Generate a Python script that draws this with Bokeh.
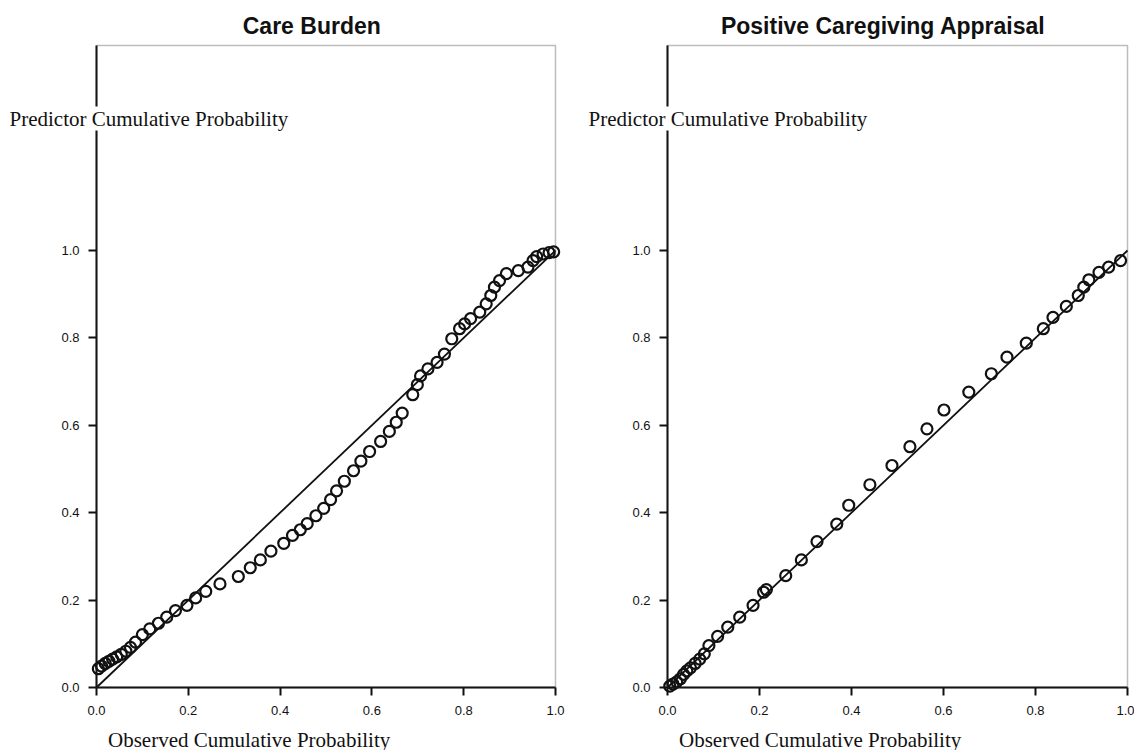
from bokeh.plotting import figure
from bokeh.models import (Label, Range1d, FixedTicker, NumeralTickFormatter,
                          LinearAxis, BoxAnnotation)
from bokeh.layouts import row
from bokeh.embed import file_html
from bokeh.resources import INLINE

# ---------------- data ----------------
titles = ["Care Burden", "Positive Caregiving Appraisal"]
x_label = "Observed Cumulative Probability"
y_label = "Predictor Cumulative Probability"
tick_values = [0.0, 0.2, 0.4, 0.6, 0.8, 1.0]

ref_x = [0.0, 1.0]
ref_y = [0.0, 1.0]

cb_x = [0.004, 0.011, 0.019, 0.027, 0.035, 0.044, 0.054, 0.064, 0.074, 0.085,
        0.100, 0.116, 0.135, 0.153, 0.172, 0.197, 0.216, 0.238, 0.269, 0.309,
        0.335, 0.357, 0.380, 0.408, 0.427, 0.444, 0.459, 0.478, 0.495, 0.510,
        0.523, 0.540, 0.560, 0.576, 0.595, 0.619, 0.638, 0.653, 0.666, 0.689,
        0.699, 0.706, 0.722, 0.742, 0.758, 0.774, 0.791, 0.802, 0.815, 0.835,
        0.849, 0.859, 0.867, 0.878, 0.893, 0.919, 0.940, 0.951, 0.959, 0.973,
        0.986, 0.996]
cb_y = [0.043, 0.049, 0.055, 0.060, 0.065, 0.070, 0.076, 0.083, 0.092, 0.104,
        0.121, 0.134, 0.147, 0.161, 0.176, 0.188, 0.205, 0.220, 0.237, 0.254,
        0.274, 0.292, 0.312, 0.330, 0.348, 0.361, 0.375, 0.393, 0.410, 0.430,
        0.450, 0.472, 0.496, 0.518, 0.540, 0.563, 0.586, 0.607, 0.628, 0.670,
        0.693, 0.713, 0.729, 0.744, 0.763, 0.798, 0.821, 0.832, 0.844, 0.859,
        0.878, 0.897, 0.916, 0.931, 0.947, 0.954, 0.962, 0.977, 0.986, 0.992,
        0.995, 0.997]

pca_x = [0.005, 0.012, 0.020, 0.028, 0.035, 0.042, 0.050, 0.060, 0.070, 0.080,
         0.090, 0.109, 0.131, 0.157, 0.186, 0.209, 0.215, 0.257, 0.291, 0.325,
         0.368, 0.394, 0.440, 0.488, 0.527, 0.564, 0.601, 0.655, 0.704, 0.738,
         0.780, 0.817, 0.838, 0.867, 0.893, 0.905, 0.916, 0.938, 0.959, 0.985]
pca_y = [0.003, 0.008, 0.013, 0.020, 0.030, 0.038, 0.045, 0.055, 0.065, 0.077,
         0.096, 0.117, 0.138, 0.161, 0.188, 0.218, 0.224, 0.256, 0.292, 0.334,
         0.374, 0.417, 0.464, 0.508, 0.551, 0.592, 0.635, 0.676, 0.718, 0.756,
         0.788, 0.821, 0.847, 0.872, 0.897, 0.916, 0.933, 0.950, 0.962, 0.977]

series = [(cb_x, cb_y), (pca_x, pca_y)]

# ---------------- layout (pixel geometry, page coordinates) ----------------
H = 750
Y0_PX, Y_SCALE = 687, 437.0          # y = 0 row and px per unit
BOX_TOP_PX = 45
panels_geo = [
    dict(left=0, width=580, x0=96, scale=459.0, ylab=9),
    dict(left=580, width=554, x0=667, scale=460.0, ylab=588),
]
Y_TOP = (Y0_PX - BOX_TOP_PX) / Y_SCALE


def ypx(px):
    return (Y0_PX - px) / Y_SCALE


def make_panel(title, xs, ys, g):
    def xpx(px):  # page pixel -> data x
        return (px - g["x0"]) / g["scale"]

    p = figure(output_backend="svg", toolbar_location=None,
               width=g["width"], height=H, min_border=0,
               x_axis_type=None, y_axis_type=None,
               x_range=Range1d(xpx(g["left"]), xpx(g["left"] + g["width"])),
               y_range=Range1d(ypx(H), ypx(0)))
    p.title.visible = False
    p.grid.visible = False
    p.outline_line_color = None
    p.background_fill_color = "white"
    p.border_fill_color = "white"

    xa = LinearAxis(fixed_location=0, bounds=(0, 1))
    ya = LinearAxis(fixed_location=0, bounds=(0, Y_TOP))
    for ax in (xa, ya):
        ax.ticker = FixedTicker(ticks=tick_values)
        ax.formatter = NumeralTickFormatter(format="0.0")
        ax.axis_line_width = 2
        ax.axis_line_color = "#111111"
        ax.major_tick_line_width = 2
        ax.major_tick_line_color = "#111111"
        ax.major_tick_in = 0
        ax.major_tick_out = 8
        ax.minor_tick_in = 0
        ax.minor_tick_out = 0
        ax.major_label_text_font = "Liberation Sans"
        ax.major_label_text_font_size = "13px"
        ax.major_label_text_color = "#111111"
    xa.major_label_standoff = 10
    ya.major_label_standoff = 9
    p.add_layout(xa, "below")
    p.add_layout(ya, "left")

    p.add_layout(BoxAnnotation(left=0, right=1, bottom=0, top=Y_TOP,
                               fill_alpha=0, line_color="#222222",
                               line_width=1.5))

    p.line(ref_x, ref_y, line_color="#111111", line_width=1.8)
    p.scatter(xs, ys, marker="circle", size=11, line_color="#111111",
              line_width=2.2, fill_alpha=0)

    p.add_layout(Label(x=0.469, y=ypx(25), text=title,
                       text_align="center", text_baseline="middle",
                       text_font="Liberation Sans", text_font_style="bold",
                       text_font_size="23px", text_color="#111111"))
    p.add_layout(Label(x=xpx(g["ylab"]), y=ypx(118), text=y_label,
                       text_align="left", text_baseline="middle",
                       text_font="Liberation Serif", text_font_size="21px",
                       text_color="#111111", background_fill_color="white"))
    p.add_layout(Label(x=0.025, y=ypx(739), text=x_label,
                       text_align="left", text_baseline="middle",
                       text_font="Liberation Serif", text_font_size="21px",
                       text_color="#111111"))
    return p


panels = [make_panel(t, s[0], s[1], g) for t, s, g in zip(titles, series, panels_geo)]
layout = row(*panels, spacing=0)

open("out.html", "w").write(file_html(layout, INLINE))
